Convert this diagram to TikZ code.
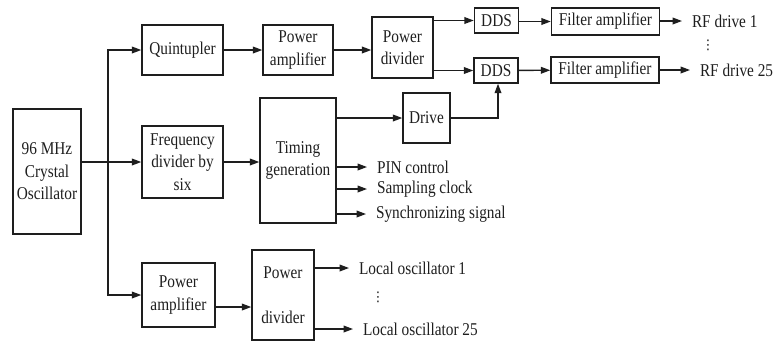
\documentclass[tikz,border=0pt]{standalone}
\usepackage{fontspec}
\setmainfont{Liberation Serif}[FakeStretch=0.85]
\newfontfamily\symfont{DejaVu Sans}
\usetikzlibrary{positioning, arrows.meta, calc}
\definecolor{ink}{HTML}{1E1E1E}
\tikzset{
  blk/.style  = {rectangle, draw=ink, line width=1.1pt, align=center,
                 inner sep=1pt, text=ink},
  lab/.style  = {anchor=west, inner xsep=0pt, outer xsep=7.5pt, text=ink},
  sig/.style  = {draw=ink, line width=1pt, -{Triangle[length=7pt,width=5pt]}},
  dots/.style = {text=ink, inner sep=0pt, font=\symfont},
}

\begin{document}
\begin{tikzpicture}[x=0.75pt, y=-0.75pt,
  font=\fontsize{13.5pt}{16.8pt}\selectfont]
\useasboundingbox (0,0) rectangle (777,344);

% Source and the three branches
\node (xtal) [blk, minimum width=51pt, minimum height=93.75pt] at (47,171.5) {96 MHz\\Crystal\\Oscillator};
\coordinate (br) at (108,162);

% RF drive chain (top)
\node (quint) [blk, minimum width=60.75pt, minimum height=37.5pt] at (182.5,50) {Quintupler};
\node (pa1) [blk, minimum width=52.5pt, minimum height=37.5pt] at (298,50) {Power\\amplifier};
\node (pd1) [blk, minimum width=45.75pt, minimum height=45.75pt] at (402.5,47.5) {Power\\divider};
\node (dds1) [blk, minimum width=33pt, minimum height=18.75pt] at (496.5,20.5) {DDS};
\node (dds2) [blk, minimum width=33pt, minimum height=18.75pt] at (496,70.5) {DDS};
\node (fa1) [blk, minimum width=81pt, minimum height=20pt] at (605.5,21.5) {Filter amplifier};
\node (fa2) [blk, minimum width=81pt, minimum height=19.5pt] at (605,70) {Filter amplifier};
\node (rf1) [lab] at (682,21) {RF drive 1};
\node (rf25) [lab] at (690,70) {RF drive 25};
\node (rfdots) [dots] at (708,45) {⋮};

% Timing chain (middle)
\node (fdiv) [blk, minimum width=60.75pt, minimum height=54pt] at (182.5,162) {Frequency\\divider by\\six};
\node (timing) [blk, minimum width=57pt, minimum height=93.75pt] at (298,160.5) {Timing\\generation};
\node (drive) [blk, minimum width=35.25pt, minimum height=37.5pt] at (426.5,118) {Drive};
\node (pin) [lab] at (367,167) {PIN control};
\node (samp) [lab] at (367,189) {Sampling clock};
\node (sync) [lab] at (366,214) {Synchronizing signal};

% Local oscillator chain (bottom)
\node (pa2) [blk, minimum width=54.75pt, minimum height=48pt] at (178.5,295) {Power\\amplifier};
\node (pd2) [blk, minimum width=46.5pt, minimum height=67.5pt] at (283,295) {Power\\[17pt]divider};
\node (lo1) [lab] at (349,268) {Local oscillator 1};
\node (lo25) [lab] at (353,329) {Local oscillator 25};
\node (lodots) [dots] at (378,297) {⋮};

% Connectors
\draw [sig] (xtal.east |- fdiv.west) -- (fdiv.west);
\draw [sig] (br) |- (quint.west);
\draw [sig] (br) |- (pa2.west);
\draw [sig] (quint) -- (pa1);
\draw [sig] (pa1.east) -- (pa1.east -| pd1.west);
\draw [sig] (pd1.east |- dds1.west) -- (dds1.west);
\draw [sig] (pd1.east |- dds2.west) -- (dds2.west);
\draw [sig] (dds1.east |- fa1.west) -- (fa1.west);
\draw [sig] (dds2) -- (fa2);
\draw [sig] (fa1.east |- rf1.west) -- (rf1.west);
\draw [sig] (fa2.east |- rf25.west) -- (rf25.west);
\draw [sig] (fdiv.east) -- (fdiv.east -| timing.west);
\draw [sig] (timing.east |- drive.west) -- (drive.west);
\draw [sig] (drive.east) -| ($(dds2.south)+(2,0)$);
\draw [sig] (timing.east |- pin.west) -- (pin.west);
\draw [sig] (timing.east |- samp.west) -- (samp.west);
\draw [sig] (timing.east |- sync.west) -- (sync.west);
\draw [sig] (pa2.east |- 0,307) -- (pa2.east |- 0,307 -| pd2.west);
\draw [sig] (pd2.east |- lo1.west) -- (lo1.west);
\draw [sig] (pd2.east |- lo25.west) -- (lo25.west);

\end{tikzpicture}
\end{document}
